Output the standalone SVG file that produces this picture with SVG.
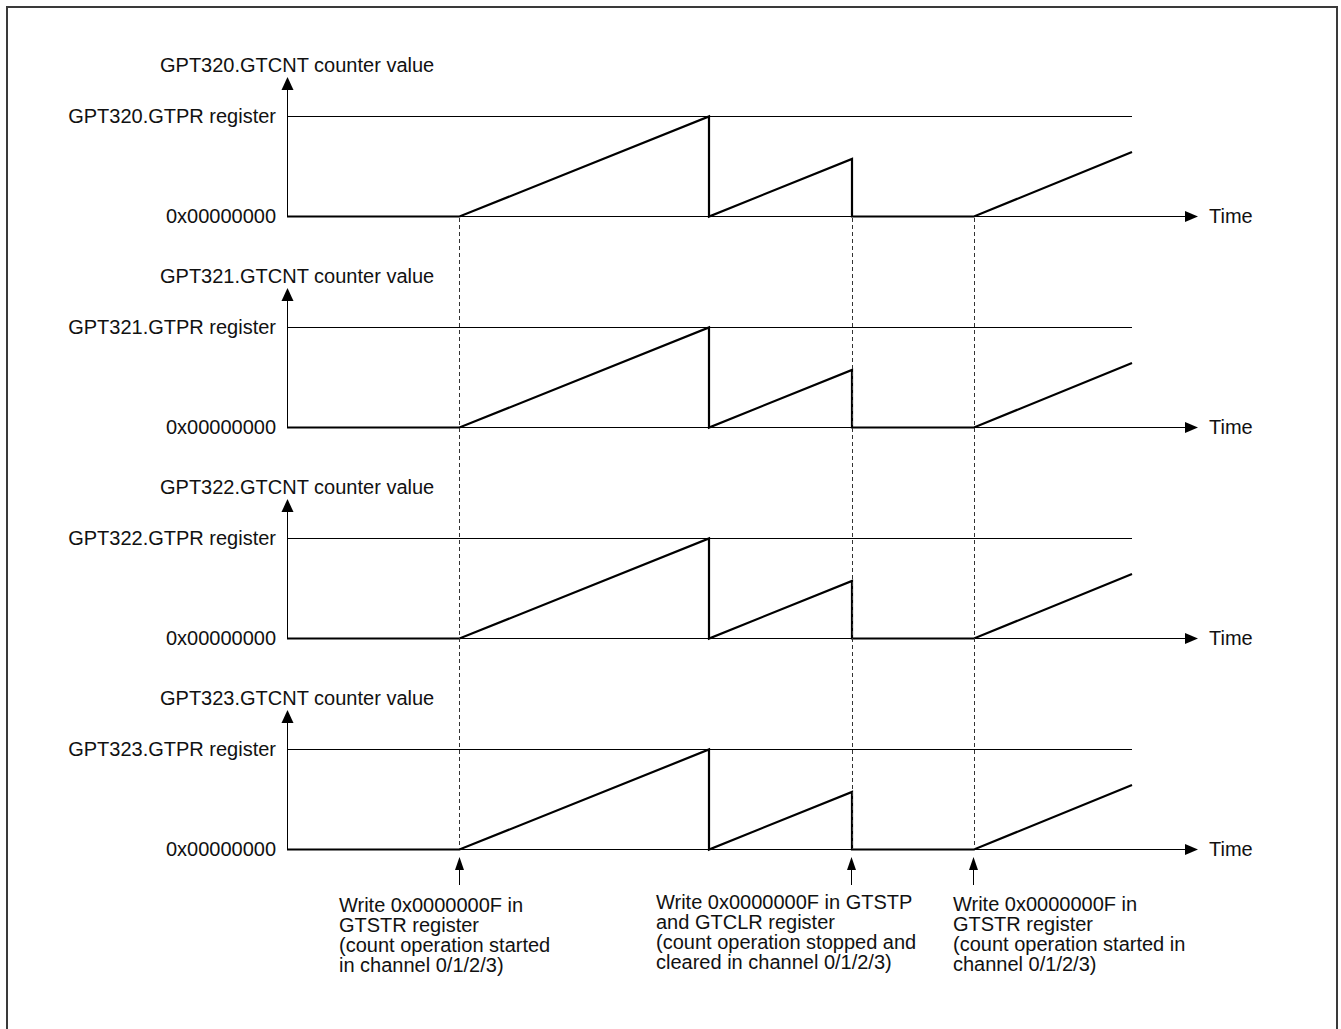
<svg xmlns="http://www.w3.org/2000/svg" width="1341" height="1029" viewBox="0 0 1341 1029">
<style>
text{font-family:"Liberation Sans",Arial,sans-serif;font-size:20px;fill:#111}
.end{text-anchor:end}
.thin{stroke:#000;stroke-width:1;fill:none}
.wave{stroke:#000;stroke-width:2.2;fill:none;stroke-linejoin:miter}
.dash{stroke:#333;stroke-width:1;stroke-dasharray:4,3;fill:none}
.head{fill:#000}
</style>
<rect x="7" y="7" width="1330" height="1040" fill="#fff" stroke="#3a3a3a" stroke-width="2"/>
<defs>
<g id="axes">
<line class="thin" x1="287.5" y1="216.5" x2="287.5" y2="89"/>
<polygon class="head" points="287.5,77 281.5,90 293.5,90"/>
<line class="thin" x1="287.5" y1="116.5" x2="1132" y2="116.5"/>
<line class="thin" x1="287" y1="216.5" x2="1186" y2="216.5"/>
<polygon class="head" points="1198,216.5 1185,211 1185,222"/>
<polyline class="wave" points="287,216.5 459.5,216.5 709,116.5 709,216.5 852,159 852,216.5 974,216.5 1132,152"/>
<text x="1209" y="223">Time</text>
</g>
</defs>
<g id="panel0">
<use href="#axes"/>
<text x="160" y="72">GPT320.GTCNT counter value</text>
<text class="end" x="276" y="123">GPT320.GTPR register</text>
<text class="end" x="276" y="223">0x00000000</text>
</g>
<g id="panel1" transform="translate(0,211)">
<use href="#axes"/>
<text x="160" y="72">GPT321.GTCNT counter value</text>
<text class="end" x="276" y="123">GPT321.GTPR register</text>
<text class="end" x="276" y="223">0x00000000</text>
</g>
<g id="panel2" transform="translate(0,422)">
<use href="#axes"/>
<text x="160" y="72">GPT322.GTCNT counter value</text>
<text class="end" x="276" y="123">GPT322.GTPR register</text>
<text class="end" x="276" y="223">0x00000000</text>
</g>
<g id="panel3" transform="translate(0,633)">
<use href="#axes"/>
<text x="160" y="72">GPT323.GTCNT counter value</text>
<text class="end" x="276" y="123">GPT323.GTPR register</text>
<text class="end" x="276" y="223">0x00000000</text>
</g>
<g id="connectors">
<line class="dash" x1="459.5" y1="218" x2="459.5" y2="849"/>
<line class="dash" x1="852.5" y1="218" x2="852.5" y2="849"/>
<line class="dash" x1="974.5" y1="218" x2="974.5" y2="849"/>
<line class="thin" x1="459.5" y1="885" x2="459.5" y2="868"/>
<polygon class="head" points="459.5,857 455,870 464,870"/>
<line class="thin" x1="851.5" y1="885" x2="851.5" y2="868"/>
<polygon class="head" points="851.5,857 847,870 856,870"/>
<line class="thin" x1="973.5" y1="885" x2="973.5" y2="868"/>
<polygon class="head" points="973.5,857 969,870 978,870"/>
</g>
<g id="note-start">
<text x="339" y="912">Write 0x0000000F in</text>
<text x="339" y="932">GTSTR register</text>
<text x="339" y="952">(count operation started</text>
<text x="339" y="972">in channel 0/1/2/3)</text>
</g>
<g id="note-stop">
<text x="656" y="909">Write 0x0000000F in GTSTP</text>
<text x="656" y="929">and GTCLR register</text>
<text x="656" y="949">(count operation stopped and</text>
<text x="656" y="969">cleared in channel 0/1/2/3)</text>
</g>
<g id="note-restart">
<text x="953" y="911">Write 0x0000000F in</text>
<text x="953" y="931">GTSTR register</text>
<text x="953" y="951">(count operation started in</text>
<text x="953" y="971">channel 0/1/2/3)</text>
</g>
</svg>
